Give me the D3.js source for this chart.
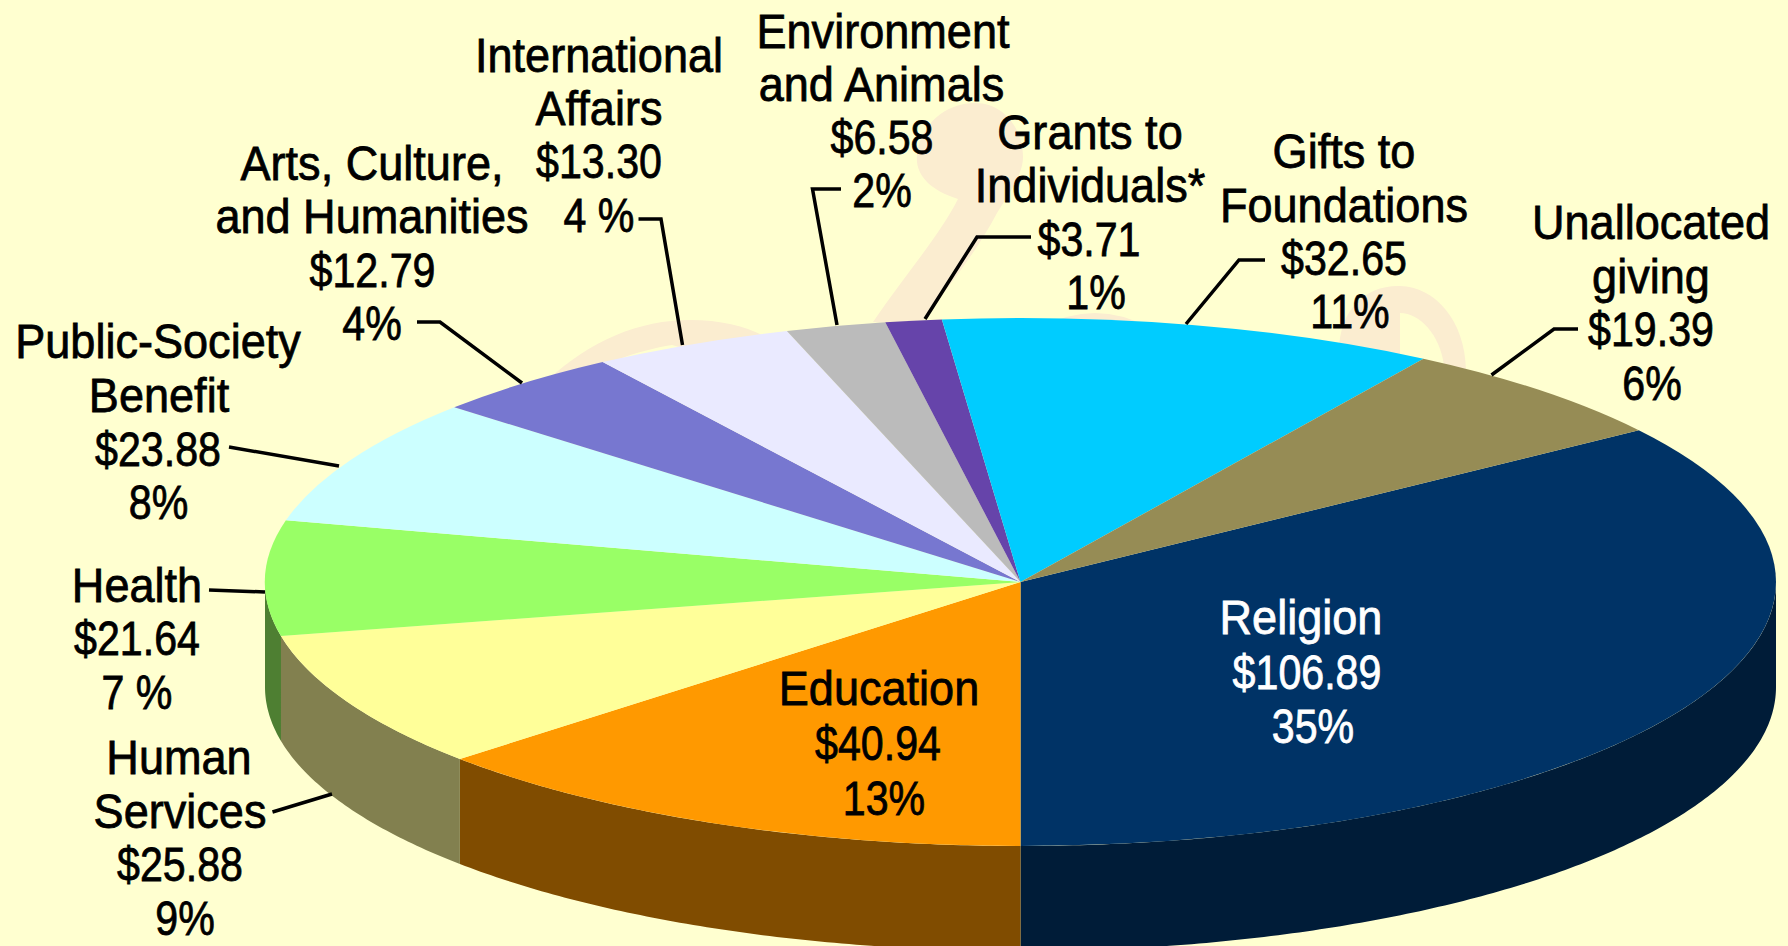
<!DOCTYPE html>
<html>
<head>
<meta charset="utf-8">
<script src="https://cdn.jsdelivr.net/npm/d3@7"></script>
<style>
html, body { margin: 0; padding: 0; background: #ffffd0; overflow: hidden; }
svg { display: block; }
text { font-family: "Liberation Sans", sans-serif; font-size: 49px; text-anchor: middle; stroke-width: 0.8px; }
</style>
</head>
<body>
<div id="chart"></div>
<script>
// giving by category, clockwise from the right hand side
var categories = ["Religion", "Education", "Human Services", "Health", "Public-Society Benefit",
    "Arts", "International Affairs", "Environment", "Grants", "Gifts", "Unallocated"];
var dollars = [106.89, 40.94, 25.88, 21.64, 23.88, 12.79, 13.30, 6.58, 3.71, 32.65, 19.39];
var percents = ["35%", "13%", "9%", "7 %", "8%", "4%", "4 %", "2%", "1%", "11%", "6%"];
var nameLines = [
    ["Religion"], ["Education"], ["Human", "Services"], ["Health"], ["Public-Society", "Benefit"],
    ["Arts, Culture,", "and Humanities"], ["International", "Affairs"], ["Environment", "and Animals"],
    ["Grants to", "Individuals*"], ["Gifts to", "Foundations"], ["Unallocated", "giving"]
];
var topColors = ["#003366", "#ff9900", "#ffff99", "#99ff66", "#ccffff", "#7777d0", "#eaeaff", "#bbbbbb", "#6644aa", "#00ccff", "#968c55"];
var sideColors = ["#001c38", "#804c00", "#82804f", "#4e7f32", "#668080", "#3c3c68", "#757580", "#5e5e5e", "#332255", "#006680", "#4b462a"];

// layout
var width = 1788, height = 946;
var cx = 1020.5, cy = 582, rx = 755.5, ry = 264, depth = 105;
var nameStretch = 0.92, numberStretch = 0.84; // the original type is a condensed face

// label line centres and baselines, one entry per line
var labelX = [
    [1301, 1307, 1313], [879, 878, 884], [179, 180, 180, 185], [137, 137, 137], [158, 159, 158, 158.5],
    [372, 372, 372.5, 372], [599, 599, 599, 599], [883, 881.5, 882, 882], [1090, 1090, 1089, 1096],
    [1344, 1344, 1344, 1350], [1651, 1651, 1651, 1652]
];
var labelY = [
    [634, 689, 743], [705, 760, 815], [774, 828, 881, 935], [602, 655, 709], [358, 412, 466, 519],
    [180, 233, 287, 340], [72, 125, 178, 232], [48, 101, 154, 207], [149, 202, 256, 309],
    [168, 222, 275, 328], [239, 293, 346, 400]
];
var leaders = [
    [[272.5, 812], [332, 794]],
    [[209, 590], [265, 592]],
    [[229, 447], [339, 466]],
    [[417, 322], [440, 322], [522, 383]],
    [[638.5, 219], [661, 219], [682.5, 345]],
    [[841, 189], [812.5, 189], [837, 325]],
    [[1031, 237], [977, 237], [925, 319]],
    [[1265, 260], [1239, 260], [1186, 324]],
    [[1578, 329], [1554, 329], [1491.5, 375]]
];
// faint swirl printed behind the pie
var swirl = [
    "M547 381C590 340 640 320 690 320C720 320 745 326 764 336L764 370L672 345C640 350 590 365 560 395Z",
    "M873 322C905 275 940 235 958 199C930 190 915 175 917 155C920 125 945 103 975 103C1005 103 1023 130 1023 157C1023 175 1008 195 997 213C975 255 945 290 920 325Z",
    "M1040 328Q1095 298 1150 328Z",
    "M1339 350C1340 310 1365 285 1400 286C1435 287 1465 320 1466 370L1444 365C1440 335 1420 313 1400 313L1400 355Z"
];

var svg = d3.select("#chart")
    .append("svg")
    .attr("width", width)
    .attr("height", height);

svg.append("rect")
    .attr("width", width)
    .attr("height", height)
    .attr("fill", "#ffffd0");

svg.selectAll(".swirl")
    .data(swirl)
    .enter()
    .append("path")
    .attr("class", "swirl")
    .attr("d", function(d) { return d })
    .attr("fill", "#fbedd0");

// Religion ends exactly at the bottom of the pie
var total = d3.sum(dollars);
var start = Math.PI - 2 * Math.PI * dollars[0] / total;

var pie = d3.pie()
    .sort(null)
    .startAngle(start)
    .endAngle(start + 2 * Math.PI);

var slices = pie(dollars);

// side wall, only the part of a slice that faces the viewer
var wall = d3.area()
    .x(function(t) { return cx + rx * Math.sin(t) })
    .y0(function(t) { return cy - ry * Math.cos(t) })
    .y1(function(t) { return cy - ry * Math.cos(t) + depth });

svg.selectAll(".wall")
    .data(slices)
    .enter()
    .append("path")
    .attr("class", "wall")
    .attr("fill", function(d) { return sideColors[d.index] })
    .attr("d", function(d) {
        var a = Math.max(d.startAngle, Math.PI / 2);
        var b = Math.min(d.endAngle, 3 * Math.PI / 2);
        if (b <= a) return null;
        var n = Math.ceil((b - a) / 0.01);
        var ts = d3.range(n + 1).map(function(i) { return a + (b - a) * i / n });
        return wall(ts);
    });

var arc = d3.arc().innerRadius(0).outerRadius(rx);

svg.append("g")
    .attr("transform", "translate(" + cx + "," + cy + ") scale(1," + (ry / rx) + ")")
    .selectAll("path")
    .data(slices)
    .enter()
    .append("path")
    .attr("fill", function(d) { return topColors[d.index] })
    .attr("d", arc);

var leaderLine = d3.line();

svg.selectAll(".leader")
    .data(leaders)
    .enter()
    .append("path")
    .attr("class", "leader")
    .attr("d", leaderLine)
    .attr("fill", "none")
    .attr("stroke", "#000")
    .attr("stroke-width", 3.5);

// labels: name lines, then the amount, then the share
categories.forEach(function(c, i) {
    var names = nameLines[i].length;
    var lines = nameLines[i].concat(["$" + dollars[i].toFixed(2), percents[i]]);
    var ink = i == 0 ? "#fff" : "#000";
    svg.append("g")
        .attr("class", "label")
        .selectAll("text")
        .data(lines)
        .enter()
        .append("text")
        .attr("transform", function(d, j) {
            var s = j < names ? nameStretch : numberStretch;
            return "translate(" + labelX[i][j] + "," + labelY[i][j] + ") scale(" + s + ",1)";
        })
        .style("fill", ink)
        .style("stroke", ink)
        .text(function(d) { return d });
});
</script>
</body>
</html>
